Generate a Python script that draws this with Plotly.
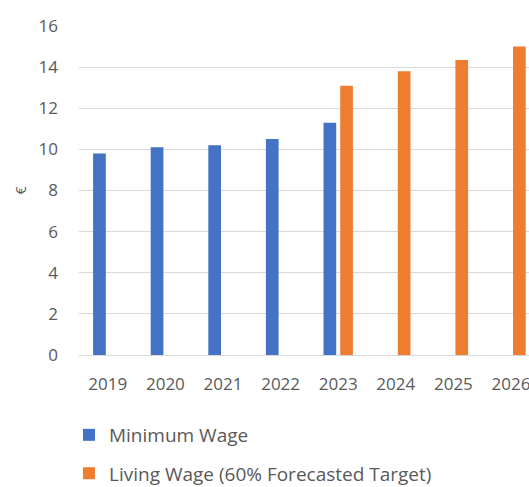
import plotly.graph_objects as go

years = ["2019", "2020", "2021", "2022", "2023", "2024", "2025", "2026"]
minimum_wage = [9.8, 10.1, 10.2, 10.5, 11.3, None, None, None]
living_wage = [None, None, None, None, 13.1, 13.8, 14.35, 15.0]
y_ticks = [0, 2, 4, 6, 8, 10, 12, 14, 16]

FONT = "'Open Sans', sans-serif"
GREY = "#595959"

fig = go.Figure()
fig.add_trace(go.Bar(x=years, y=minimum_wage, name="Minimum Wage",
                     marker=dict(color="#4472C4", line=dict(width=0)),
                     legend="legend"))
fig.add_trace(go.Bar(x=years, y=living_wage, name="Living Wage (60% Forecasted Target)",
                     marker=dict(color="#ED7D31", line=dict(width=0)),
                     legend="legend2"))

fig.update_layout(
    width=529, height=487,
    margin=dict(l=79, r=0, t=26, b=132, autoexpand=False),
    paper_bgcolor="white", plot_bgcolor="white",
    barmode="group", bargap=0.42, bargroupgap=0.24,
    font=dict(family=FONT, size=16, color=GREY),
    showlegend=True,
    legend=dict(xref="container", yref="container", x=0.1304, xanchor="left",
                y=0.1068, yanchor="middle",
                font=dict(size=19, color=GREY), bgcolor="rgba(0,0,0,0)"),
    legend2=dict(xref="container", yref="container", x=0.1304, xanchor="left",
                 y=0.028, yanchor="middle",
                 font=dict(size=19, color=GREY), bgcolor="rgba(0,0,0,0)"),
    xaxis=dict(range=[-0.5, 7.3125], showgrid=False, showline=True,
               linecolor="#d9d9d9", linewidth=1, ticks="", automargin=False,
               ticklabelstandoff=14, tickfont=dict(size=17, color=GREY)),
    yaxis=dict(range=[0, 16], tickvals=y_ticks, showgrid=True,
               gridcolor="#d9d9d9", gridwidth=1, zeroline=False, automargin=False,
               showline=False, ticks="", ticklabelstandoff=20,
               tickfont=dict(size=17, color=GREY)),
    annotations=[dict(text="€", xref="paper", yref="paper", x=-0.131, y=0.5,
                      xanchor="center", yanchor="middle", textangle=-90,
                      showarrow=False, font=dict(size=14, color=GREY))],
)

fig.write_html(
    "out.html",
    config={"displayModeBar": False},
    post_script="document.body.style.margin='0';document.body.style.overflow='hidden';",
)
